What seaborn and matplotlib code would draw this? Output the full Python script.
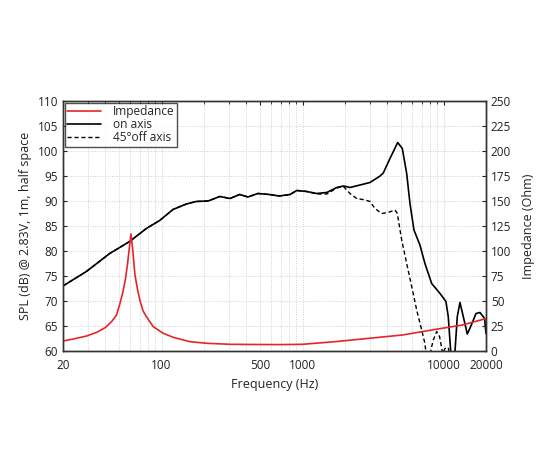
import numpy as np
import pandas as pd
import seaborn as sns
import matplotlib
matplotlib.use('Agg')
import matplotlib.pyplot as plt
from matplotlib.lines import Line2D
from matplotlib.ticker import FixedLocator, FixedFormatter, LogLocator, NullFormatter

# On-axis SPL (dB)
on_freq = [20, 29.3, 42.9, 59.4, 78, 97, 120.6, 150, 176, 214, 259, 306, 358, 410, 482, 580,
           683, 816, 910, 1070, 1260, 1486, 1750, 1950, 2170, 2560, 3008, 3550, 3738, 4170,
           4730, 5100, 5478, 5781, 6170, 6800, 7380, 8240, 9440, 10400, 10800, 11240, 11600,
           12060, 12520, 13080, 13800, 14740, 15580, 17000, 18130, 19550, 20000]
on_spl = [73.0, 75.9, 79.5, 81.9, 84.5, 86.1, 88.3, 89.4, 89.9, 90.0, 90.9, 90.5, 91.3, 90.8, 91.5, 91.3,
          91.0, 91.3, 92.1, 91.9, 91.5, 91.7, 92.7, 93.0, 92.7, 93.2, 93.7, 95.0, 95.6, 98.5,
          101.7, 100.5, 95.5, 89.5, 84.2, 81.2, 77.5, 73.5, 71.5, 69.9, 66.9, 60.0, 56.0,
          60.0, 66.9, 69.7, 66.9, 63.4, 64.9, 67.5, 67.7, 66.5, 63.5]

# 45 deg off-axis SPL (dB)
off_freq = [20, 29.3, 42.9, 59.4, 78, 97, 120.6, 150, 176, 214, 259, 306, 358, 410, 482, 580,
            683, 816, 910, 1070, 1260, 1486, 1750, 1950, 2170, 2420, 2780, 3008, 3264, 3640,
            4040, 4525, 4700, 5050, 5478, 5945, 6450, 7000, 7380, 7680, 7900, 8150, 8460, 8940,
            9370, 9860, 10240, 10800, 11240]
off_spl = [73.0, 75.9, 79.5, 81.9, 84.5, 86.1, 88.3, 89.4, 89.9, 90.0, 90.9, 90.5, 91.3, 90.8, 91.5, 91.3,
           91.0, 91.3, 92.1, 91.9, 91.4, 91.4, 92.6, 92.9, 91.5, 90.5, 90.2, 89.9, 88.5, 87.5,
           87.7, 88.2, 87.5, 82.2, 77.5, 72.9, 68.2, 64.2, 61.5, 57.0, 57.0, 60.3, 62.2, 63.9,
           62.9, 59.5, 60.5, 60.7, 58.0]

# Impedance (Ohm)
imp_freq = [20, 23.7, 29.4, 34.7, 39.8, 44.2, 48, 50.6, 53, 55.5, 57.5, 59.2, 60.7, 62.3, 64.8,
            67.7, 70.4, 74, 78.4, 87.4, 102.8, 121, 159, 209, 306, 472, 700, 1000, 1723, 2970,
            5110, 8840, 13600, 20000]
imp_ohm = [10, 12, 15, 18.7, 23.3, 29.3, 36, 47, 58, 72, 88, 104, 117, 103, 76,
           61, 50, 40, 34, 24.3, 17.7, 13.7, 9.3, 7.7, 6.7, 6.5, 6.4, 6.7, 9.4, 12.7,
           16, 21.7, 26, 32.4]

sns.set_style('white')
plt.rcParams['font.family'] = ['Open Sans', 'DejaVu Sans']

fig = plt.figure(figsize=(5.5, 4.5), dpi=100)
ax = fig.add_axes([0.1145, 0.22, 0.7691, 0.5556])
ax2 = ax.twinx()

red = '#e3262b'
sns.lineplot(x=imp_freq, y=imp_ohm, ax=ax2, color=red, linewidth=1.2, sort=False)
sns.lineplot(x=on_freq, y=on_spl, ax=ax, color='black', linewidth=1.2, sort=False)
sns.lineplot(x=off_freq, y=off_spl, ax=ax, color='black', linewidth=1.0, linestyle=(0, (3, 2)), sort=False)

ax.set_xscale('log')
ax.set_xlim(20, 20000)
ax.set_ylim(60, 110)
ax2.set_ylim(0, 250)

ax.xaxis.set_major_locator(FixedLocator([20, 100, 500, 1000, 10000, 20000]))
ax.xaxis.set_major_formatter(FixedFormatter(['20', '100', '500', '1000', '10000', '20000']))
ax.xaxis.set_minor_locator(LogLocator(base=10, subs=np.arange(2, 10)))
ax.xaxis.set_minor_formatter(NullFormatter())
ax.set_yticks(np.arange(60, 111, 5))
ax2.set_yticks(np.arange(0, 251, 25))

ax.grid(which='both', axis='x', color='#d0d0d0', linestyle=(0, (1, 1.5)), linewidth=0.7)
ax.grid(which='major', axis='y', color='#d0d0d0', linestyle=(0, (1, 1.5)), linewidth=0.7)
ax.set_axisbelow(True)

for a in (ax, ax2):
    a.tick_params(which='both', direction='in', labelsize=8.5, colors='#222222')
    a.tick_params(which='major', length=3)
    a.tick_params(which='minor', length=2)
    for s in a.spines.values():
        s.set_color('#333333')
        s.set_linewidth(1.0)
ax.tick_params(axis='x', which='both', top=True, pad=6)

ax.set_xlabel('Frequency (Hz)', fontsize=9, color='#222222', labelpad=4)
ax.set_ylabel('SPL (dB) @ 2.83V, 1m, half space', fontsize=9, color='#222222')
ax2.set_ylabel('Impedance (Ohm)', fontsize=9, color='#222222', labelpad=8)

handles = [Line2D([], [], color=red, linewidth=1.2),
           Line2D([], [], color='black', linewidth=1.2),
           Line2D([], [], color='black', linewidth=1.0, linestyle=(0, (3, 2)))]
leg = ax2.legend(handles, ['Impedance', 'on axis', '45°off axis'], loc='upper left',
                 bbox_to_anchor=(0.0, 1.0), fontsize=8.6, frameon=True, fancybox=False,
                 borderpad=0.2, labelspacing=0.0, handlelength=2.8, handletextpad=1.0,
                 borderaxespad=0.15)
leg.get_frame().set_edgecolor('#222222')
leg.get_frame().set_linewidth(1.0)

fig.savefig('out.png', dpi=100)
